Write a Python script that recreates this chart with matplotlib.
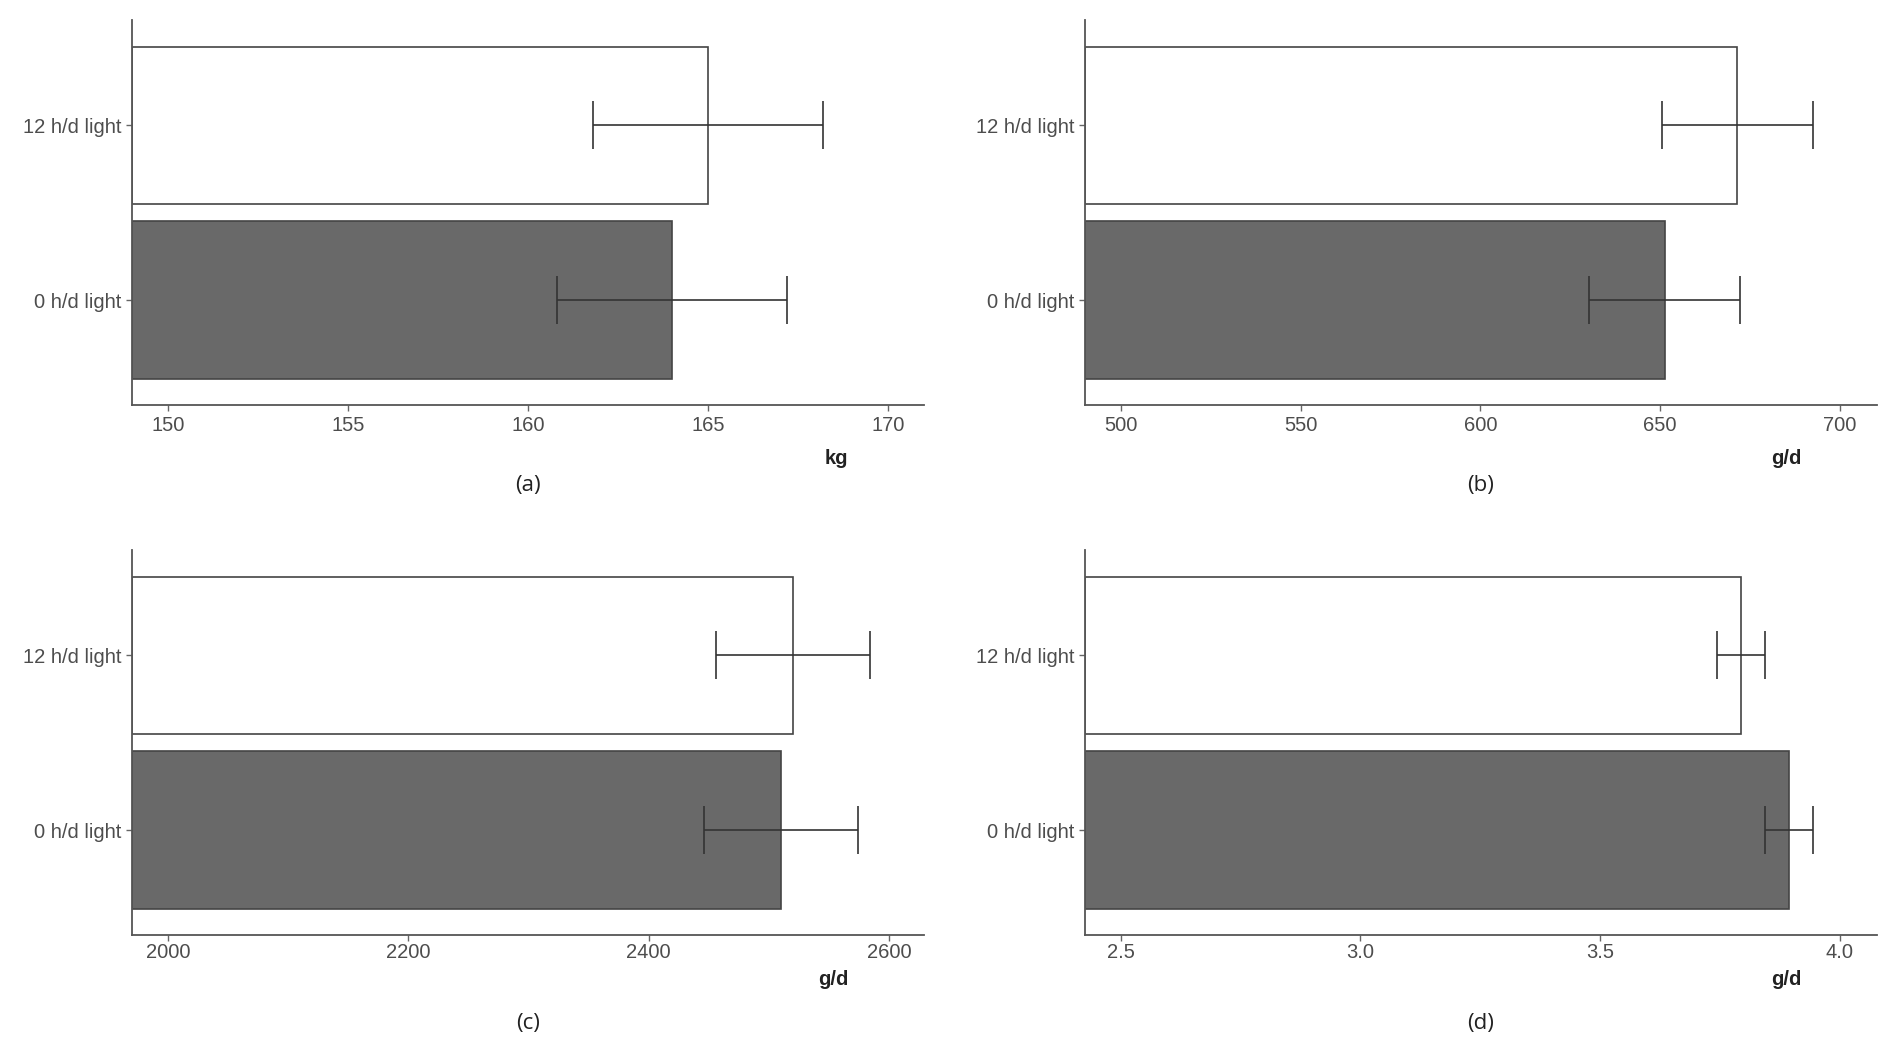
import numpy as np
import matplotlib.pyplot as plt

plt.rcParams['font.family'] = ['Liberation Sans', 'DejaVu Sans']

groups = ['0 h/d light', '12 h/d light']
fills = ['#696969', '#ffffff']

# panel data: means, errors, x limits, ticks, unit, caption
means_a = [164.0, 165.0]
err_a = [3.2, 3.2]
means_b = [651.3, 671.5]
err_b = [21.0, 21.0]
means_c = [2510.0, 2520.0]
err_c = [64.0, 64.0]
means_d = [3.893, 3.793]
err_d = [0.05, 0.05]

xlim_a = (149, 171)
xlim_b = (490, 710.3)
xlim_c = (1970, 2629)
xlim_d = (2.425, 4.077)

ticks_a = [150, 155, 160, 165, 170]
ticks_b = [500, 550, 600, 650, 700]
ticks_c = [2000, 2200, 2400, 2600]
ticks_d = [2.5, 3.0, 3.5, 4.0]
ticklabels_d = ['2.5', '3.0', '3.5', '4.0']

panels = [
    (means_a, err_a, xlim_a, ticks_a, [str(t) for t in ticks_a], 'kg', '(a)'),
    (means_b, err_b, xlim_b, ticks_b, [str(t) for t in ticks_b], 'g/d', '(b)'),
    (means_c, err_c, xlim_c, ticks_c, [str(t) for t in ticks_c], 'g/d', '(c)'),
    (means_d, err_d, xlim_d, ticks_d, ticklabels_d, 'g/d', '(d)'),
]

fig = plt.figure(figsize=(18.9, 10.6), dpi=100)
boxes = [
    [0.0698, 0.6179, 0.419, 0.3628],
    [0.574, 0.6179, 0.419, 0.3628],
    [0.0698, 0.1179, 0.419, 0.3628],
    [0.574, 0.1179, 0.419, 0.3628],
]
# label offsets per row: tick pad, unit y, caption y
row_top = (4, -0.138, -0.208)
row_bot = (1.5, -0.115, -0.229)

for i, (box, (means, errs, xlim, ticks, tlabels, unit, cap)) in enumerate(zip(boxes, panels)):
    pad, unit_y, cap_y = row_top if i < 2 else row_bot
    ax = fig.add_axes(box)
    y = np.arange(1, len(groups) + 1)
    left = xlim[0]
    ax.barh(y, np.array(means) - left, left=left, height=0.9, color=fills,
            edgecolor='#444444', linewidth=1.2, zorder=2)
    ax.errorbar(means, y, xerr=errs, fmt='none', ecolor='#333333',
                elinewidth=1.2, capsize=17, capthick=1.2, zorder=3)
    ax.set_xlim(*xlim)
    ax.set_ylim(0.4, 2.6)
    ax.set_xticks(ticks)
    ax.set_xticklabels(tlabels)
    ax.set_yticks(y)
    ax.set_yticklabels(groups)
    for s in ['top', 'right']:
        ax.spines[s].set_visible(False)
    for s in ['left', 'bottom']:
        ax.spines[s].set_color('#555555')
        ax.spines[s].set_linewidth(1.3)
    ax.tick_params(axis='both', colors='#666666', labelcolor='#4d4d4d',
                   labelsize=14.5, length=4, width=1)
    ax.tick_params(axis='x', pad=pad)
    ax.text(0.905, unit_y, unit, transform=ax.transAxes, ha='right', va='center',
            fontsize=14.5, color='#222222', fontweight='bold')
    ax.text(0.5, cap_y, cap, transform=ax.transAxes, ha='center', va='center',
            fontsize=16, color='#222222', family=['Open Sans', 'DejaVu Sans'])

fig.savefig('out.png', dpi=100)
